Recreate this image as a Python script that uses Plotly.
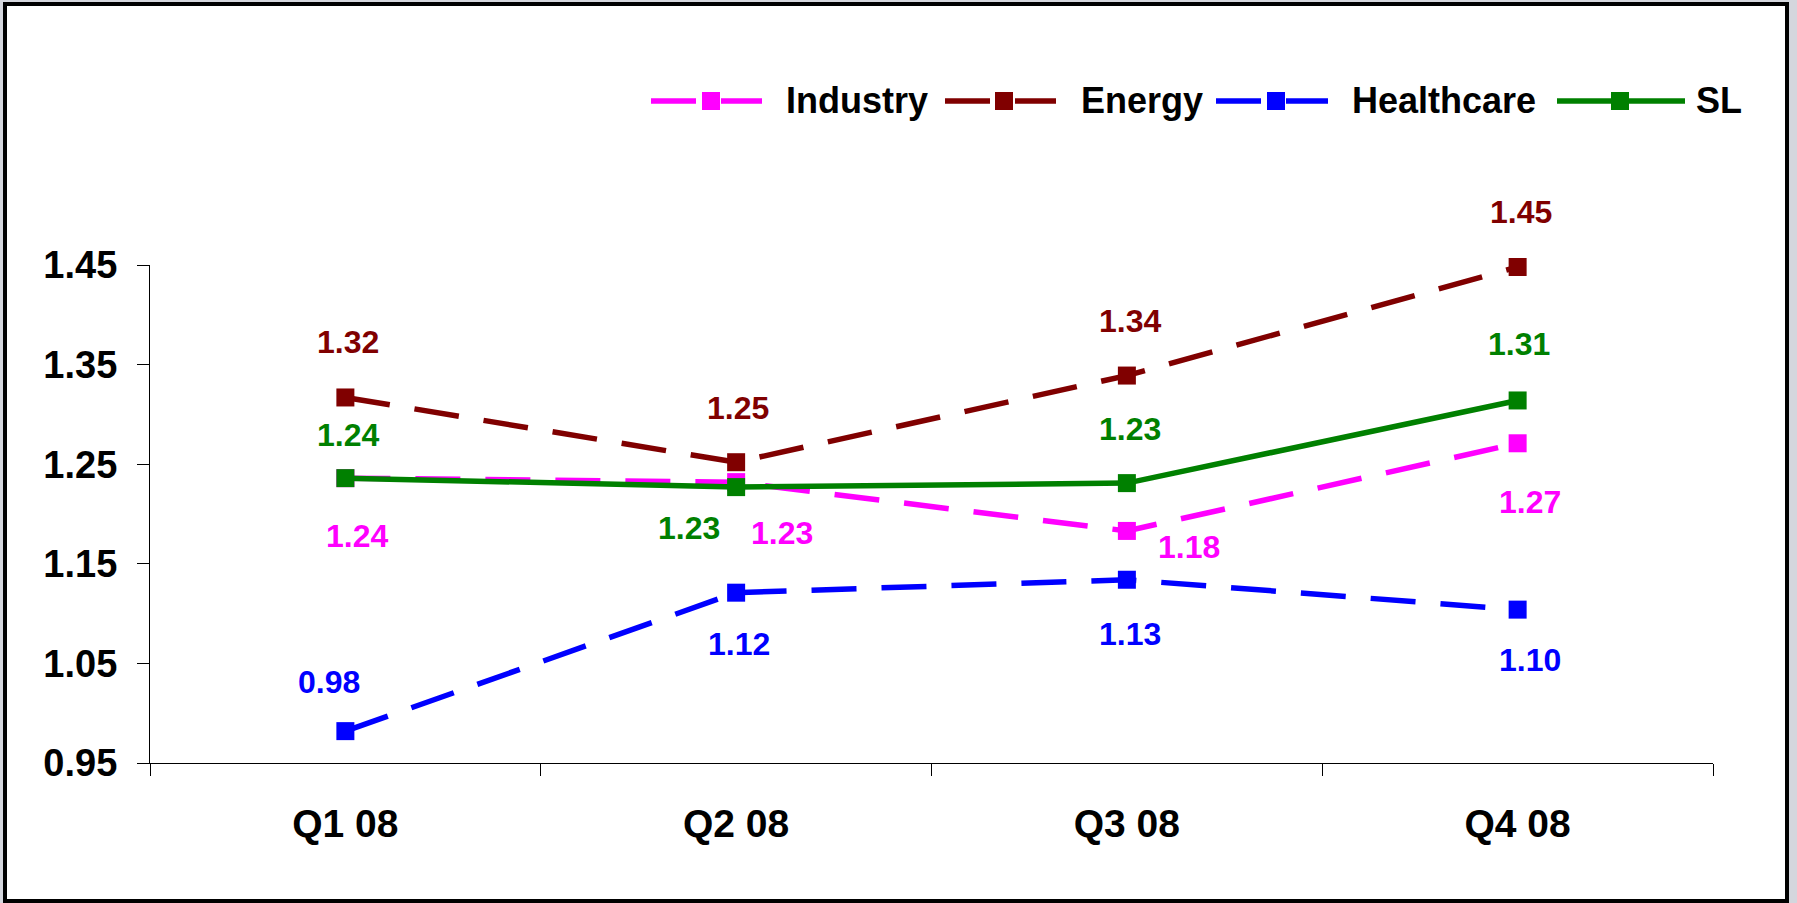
import plotly.graph_objects as go

# ---------------- data ----------------
quarters = ["Q1 08", "Q2 08", "Q3 08", "Q4 08"]
series_names = ["Industry", "Energy", "Healthcare", "SL"]
industry = [1.236, 1.232, 1.183, 1.271]
energy = [1.317, 1.252, 1.339, 1.448]
healthcare = [0.982, 1.121, 1.134, 1.104]
sl = [1.236, 1.227, 1.231, 1.314]
y_ticks = [0.95, 1.05, 1.15, 1.25, 1.35, 1.45]

# ---------------- style ----------------
colors = ["#FF00FF", "#800000", "#0000FF", "#008000"]
dashes = ["45px,25px", "45px,25px", "45px,25px", "solid"]
# label offsets (px) relative to each point: (dx right, dy down)
label_offsets = [
    [(12, 58), (46, 51), (62, 16), (12, 59)],
    [(3, -55), (2, -54), (3, -55), (3, -55)],
    [(-16, -49), (3, 51), (3, 54), (12, 50)],
    [(3, -43), (-47, 41), (3, -54), (1, -56)],
]
FONT = "Liberation Sans, Arial, sans-serif"
W, H = 1797, 903
L, R, T, B = 150, 84, 265, 140
PW, PH = W - L - R, H - T - B


def px_x(p):
    return (p - L) / PW


def px_y(p):
    return (H - B - p) / PH


values = [industry, energy, healthcare, sl]

fig = go.Figure()
for name, vals, col, dash in zip(series_names, values, colors, dashes):
    fig.add_trace(go.Scatter(
        x=quarters, y=vals, name=name, mode="lines+markers",
        line=dict(color=col, width=5.5, dash=dash),
        marker=dict(symbol="square", size=18, color=col),
        showlegend=False, cliponaxis=False,
    ))

annotations = []
for vals, col, offs in zip(values, colors, label_offsets):
    for q, v, (dx, dy) in zip(quarters, vals, offs):
        annotations.append(dict(
            x=q, y=v, xref="x", yref="y", text=f"{v:.2f}", showarrow=False,
            xshift=dx, yshift=-dy, xanchor="center", yanchor="middle",
            font=dict(family=FONT, size=32, color=col, weight="bold"),
        ))

# custom legend (long line samples like the original)
legend_y = 101
legend_items = [  # line x0, line x1, marker x, text x
    (651, 762, 711, 784),
    (945, 1056, 1004, 1079),
    (1216, 1328, 1276, 1350),
    (1557, 1685, 1620, 1694),
]
shapes = [
    dict(type="rect", xref="paper", yref="paper", layer="below",
         x0=px_x(5), x1=px_x(1787), y0=px_y(4), y1=px_y(901),
         line=dict(color="black", width=4), fillcolor="white"),
]
for name, col, dash, (x0, x1, mx, tx) in zip(series_names, colors, dashes, legend_items):
    shapes.append(dict(type="line", xref="paper", yref="paper",
                       x0=px_x(x0), x1=px_x(x1), y0=px_y(legend_y), y1=px_y(legend_y),
                       line=dict(color=col, width=5.5, dash=dash)))
    shapes.append(dict(type="rect", xref="paper", yref="paper",
                       x0=px_x(mx - 9), x1=px_x(mx + 9),
                       y0=px_y(legend_y - 9), y1=px_y(legend_y + 9),
                       line=dict(width=0), fillcolor=col))
    annotations.append(dict(
        x=px_x(tx), y=px_y(legend_y), xref="paper", yref="paper", text=name,
        showarrow=False, xanchor="left", yanchor="middle",
        font=dict(family=FONT, size=36, color="black", weight="bold"),
    ))

fig.update_layout(
    width=W, height=H, autosize=False,
    margin=dict(l=L, r=R, t=T, b=B, pad=0),
    paper_bgcolor="#d4d6dd", plot_bgcolor="rgba(0,0,0,0)",
    font=dict(family=FONT, color="black"),
    shapes=shapes, annotations=annotations,
    xaxis=dict(
        type="category", range=[-0.5, 3.5], showgrid=False, zeroline=False,
        showline=True, linecolor="black", linewidth=1.2,
        ticks="outside", tickson="boundaries", ticklen=12, tickcolor="black",
        tickwidth=1, ticklabelstandoff=26,
        tickfont=dict(family=FONT, size=39, color="black", weight="bold"),
    ),
    yaxis=dict(
        range=[0.95, 1.45], tickvals=y_ticks, tickformat=".2f",
        showgrid=False, zeroline=False, showline=True, linecolor="black",
        linewidth=1.2, ticks="outside", ticklen=12, tickcolor="black", tickwidth=1,
        ticklabelstandoff=12,
        tickfont=dict(family=FONT, size=38, color="black", weight="bold"),
    ),
)

fig.write_html("out.html", post_script="document.body.style.margin='0';",
               config={"displayModeBar": False})
